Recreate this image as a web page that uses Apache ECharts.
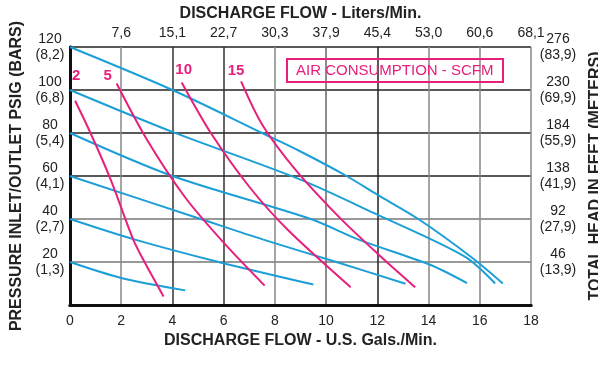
<!DOCTYPE html>
<html><head><meta charset="utf-8">
<script src="https://cdn.jsdelivr.net/npm/echarts@6/dist/echarts.min.js"></script>
<style>html,body{margin:0;padding:0;background:#fff}#c{width:615px;height:384px}</style>
</head><body><div id="c"></div>
<script>
// ---- data ----
const litersLabels = ['', '7,6', '15,1', '22,7', '30,3', '37,9', '45,4', '53,0', '60,6', '68,1'];
const psiLabels = ['', '20', '40', '60', '80', '100', '120'];
const barLabels = ['', '(1,3)', '(2,7)', '(4,1)', '(5,4)', '(6,8)', '(8,2)'];
const feetLabels = ['', '46', '92', '138', '184', '230', '276'];
const meterLabels = ['', '(13,9)', '(27,9)', '(41,9)', '(55,9)', '(69,9)', '(83,9)'];
const scfmLabels = ['2', '5', '10', '15'];

// pressure curves (GPM, PSIG)
const p120 = [[0,120],[4,100],[7.5,80],[9,71.4],[10.8,60],[12,51.3],[13.6,40],[15.7,22],[16.9,10]];
const p100 = [[0,100],[4,80.5],[9,58.3],[12,42],[15.4,22.6],[16.6,10]];
const p80  = [[0,80],[4,60],[9.4,40],[11.3,30.3],[14.06,18.7],[15.5,10.2]];
const p60  = [[0,60],[5.1,40],[7.55,30.4],[10.4,20],[13.1,9.9]];
const p40  = [[0,40],[2.54,30.4],[5.8,20],[9.5,9.5]];
const p20  = [[0,20],[2,12.6],[4.5,6.8]];

// air consumption curves (GPM, PSIG)
const s2  = [[0.2,95],[0.8,80],[1.6,58],[2.47,30.4],[3.0,18],[3.65,4]];
const s5  = [[1.82,103],[3.0,77],[4.5,50],[6.0,29],[7.6,9]];
const s10 = [[4.36,103.5],[5.5,80],[7,55],[8.5,35],[10.96,8.3]];
const s15 = [[6.68,104],[7.5,84],[8.8,63],[10.5,41],[12,24],[13.48,8.2]];

// ---- chart ----
const BLUE = '#1c9fd6', PINK = '#e6207c';
const FONT = '"Liberation Sans Narrow","Liberation Sans",Arial,sans-serif';
const chart = echarts.init(document.getElementById('c'), null, {renderer: 'canvas'});

const blueSeries = [p120, p100, p80, p60, p40, p20].map(d => ({
  type: 'line', data: d, smooth: 0.3, showSymbol: false, silent: true,
  lineStyle: {color: BLUE, width: 2}, z: 3
}));
const pinkData = [s2, s5, s10, s15];
const labelOffsets = [[1,-25],[-9,-8],[2,-13],[-5,-11]];
const pinkSeries = pinkData.map((d, i) => ({
  type: 'line', data: d, smooth: 0.3, showSymbol: false, silent: true,
  lineStyle: {color: PINK, width: 2}, z: 4,
  markPoint: {
    symbol: 'circle', symbolSize: 0, silent: true,
    data: [{coord: d[0], value: scfmLabels[i],
      label: {show: true, position: 'inside', offset: labelOffsets[i], formatter: scfmLabels[i],
        color: PINK, fontWeight: 'bold', fontSize: 15, fontFamily: 'Liberation Sans, Arial'}}]
  }
}));

const xGridColors = ['#888','#888','#333','#333','#888','#666','#222','#888','#888','#888'];
const yGridColors = ['#777','#777','#777','#222','#222','#222','#222'];
const labelText = {fontFamily: FONT, fontSize: 14, color: '#222'};
const titleText = {fontFamily: FONT, fontSize: 16, fontWeight: 'bold', color: '#222'};

chart.setOption({
  animation: false,
  backgroundColor: '#fff',
  title: {
    text: 'AIR CONSUMPTION - SCFM', left: 287, top: 59,
    padding: [4, 10, 4, 9], borderColor: PINK, borderWidth: 2,
    textStyle: {color: PINK, fontSize: 15, fontWeight: 'normal', fontFamily: FONT}
  },
  graphic: [{type: 'rect', right: 0, top: 0, shape: {width: 17, height: 384}, style: {fill: '#fff'}, z: 100, silent: true}],
  grid: {left: 70, right: 84, top: 47, bottom: 79},
  xAxis: [{
    type: 'value', position: 'bottom', min: 0, max: 18, interval: 2,
    name: 'DISCHARGE FLOW - U.S. Gals./Min.', nameLocation: 'middle', nameGap: 24,
    nameTextStyle: titleText,
    axisLine: {lineStyle: {color: '#111', width: 3}}, axisTick: {show: false},
    axisLabel: Object.assign({margin: 9}, labelText),
    splitLine: {show: true, lineStyle: {color: xGridColors, width: 1.5}}
  }, {
    type: 'value', position: 'top', min: 0, max: 18, interval: 2,
    name: 'DISCHARGE FLOW - Liters/Min.', nameLocation: 'middle', nameGap: 24,
    nameTextStyle: titleText,
    axisLine: {lineStyle: {color: '#111', width: 3}}, axisTick: {show: false},
    axisLabel: Object.assign({margin: 7, formatter: v => litersLabels[Math.round(v / 2)]}, labelText),
    splitLine: {show: false}
  }],
  yAxis: [{
    type: 'value', position: 'left', min: 0, max: 120, interval: 20,
    name: 'PRESSURE INLET/OUTLET PSIG (BARS)', nameLocation: 'middle', nameGap: 45, nameRotate: 90,
    nameTextStyle: titleText,
    axisLine: {lineStyle: {color: '#111', width: 3}}, axisTick: {show: false},
    axisLabel: Object.assign({margin: 20, align: 'center', lineHeight: 16, padding: [4, 0, 0, 0],
      formatter: v => { const i = Math.round(v / 20); return i ? psiLabels[i] + '\n' + barLabels[i] : ''; }}, labelText),
    splitLine: {show: true, lineStyle: {color: yGridColors, width: 1.5}}
  }, {
    type: 'value', position: 'right', min: 0, max: 120, interval: 20,
    name: 'TOTAL HEAD IN FEET (METERS)', nameLocation: 'middle', nameGap: 50, nameRotate: 90,
    nameTextStyle: titleText,
    axisLine: {lineStyle: {color: '#111', width: 3}}, axisTick: {show: false},
    axisLabel: Object.assign({margin: 27, align: 'center', lineHeight: 16, padding: [4, 0, 0, 0],
      formatter: v => { const i = Math.round(v / 20); return i ? feetLabels[i] + '\n' + meterLabels[i] : ''; }}, labelText),
    splitLine: {show: false}
  }],
  series: blueSeries.concat(pinkSeries)
});
</script></body></html>
